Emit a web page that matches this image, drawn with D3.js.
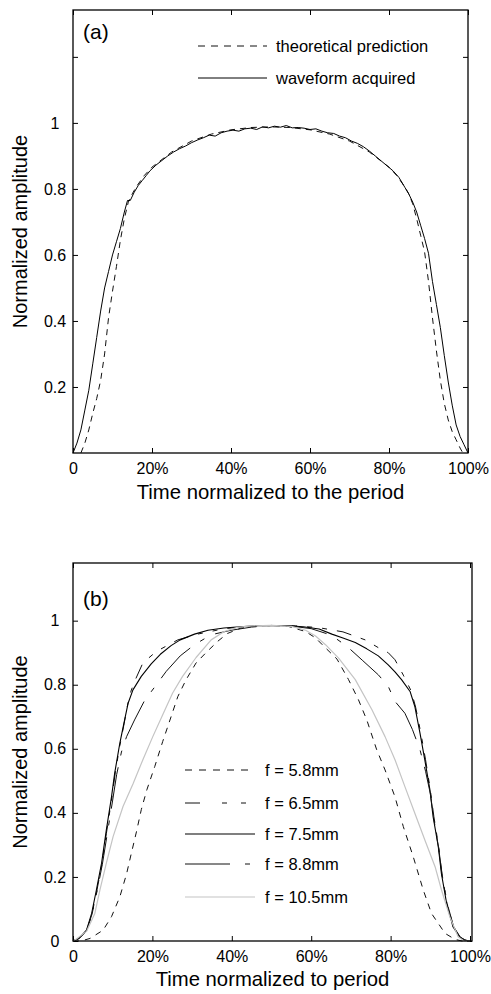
<!DOCTYPE html>
<html><head><meta charset="utf-8">
<script src="https://cdn.jsdelivr.net/npm/d3@7"></script>
<style>body{margin:0;background:#fff}svg{display:block}</style>
</head><body><svg id="c" width="491" height="994"></svg>
<script>
// ---------- data ----------
const xTickValues = [0, 20, 40, 60, 80, 100];
const xTickLabels = ["0", "20%", "40%", "60%", "80%", "100%"];
const aYTickValues = [0.2, 0.4, 0.6, 0.8, 1, 1.2];
const aYTickLabels = ["0.2", "0.4", "0.6", "0.8", "1", ""];
const bYTickValues = [0, 0.2, 0.4, 0.6, 0.8, 1];
const bYTickLabels = ["0", "0.2", "0.4", "0.6", "0.8", "1"];

const aSeriesNames = ["theoretical prediction", "waveform acquired"];
const aTheoretical = [[2,0],[3,0.03],[4,0.07],[5,0.12],[6,0.165],[7,0.22],[8,0.30],[9,0.41],[10,0.49],[11,0.565],[12,0.645],[13,0.71],[14,0.76],[15,0.785],[16,0.806],[18,0.84],[20,0.866],[25,0.912],[30,0.945],[35,0.966],[40,0.979],[45,0.986],[50,0.988],[55,0.986],[60,0.979],[65,0.966],[70,0.945],[75,0.912],[80,0.866],[82,0.84],[84,0.806],[85,0.785],[86,0.755],[87,0.71],[88,0.66],[89,0.61],[90,0.52],[91,0.41],[92,0.31],[93,0.22],[94,0.15],[95,0.10],[96,0.065],[97,0.04],[98,0.015],[98.7,0]];
const aWaveform = [[0,0],[1,0.03],[2,0.07],[3,0.13],[4,0.19],[5,0.27],[6,0.35],[7,0.43],[8,0.5],[9,0.55],[10,0.6],[11,0.64],[12,0.68],[13,0.73],[13.8,0.765],[14.5,0.765],[15.5,0.79],[16.5,0.81],[17.5,0.825],[18.5,0.84],[19.5,0.855],[21,0.872],[22.5,0.886],[24,0.9],[25.5,0.912],[27,0.922],[28.5,0.93],[30,0.94],[31.5,0.948],[33,0.955],[34.5,0.963],[36,0.96],[37.5,0.97],[39,0.975],[40.5,0.978],[42,0.975],[43.5,0.982],[45,0.984],[46.5,0.98],[48,0.988],[49.5,0.985],[51,0.99],[52.5,0.987],[54,0.992],[55.5,0.985],[57,0.986],[58.5,0.984],[60,0.98],[61.5,0.982],[63,0.975],[64.5,0.97],[66,0.968],[67.5,0.96],[69,0.955],[70.5,0.945],[72,0.938],[73.5,0.928],[75,0.915],[76.5,0.9],[78,0.885],[79.5,0.87],[81,0.855],[82.5,0.835],[84,0.805],[85,0.785],[86,0.76],[87,0.73],[88,0.69],[89,0.65],[90,0.605],[91,0.52],[92,0.45],[93,0.38],[94,0.295],[95,0.215],[96,0.145],[97,0.085],[98,0.05],[99,0.025],[100,0]];

const bSeriesNames = ["f = 5.8mm", "f = 6.5mm", "f = 7.5mm", "f = 8.8mm", "f = 10.5mm"];
const bF58 = [[0,0],[2,0],[4.3,0.008],[7.6,0.034],[9.7,0.076],[11.8,0.138],[13.5,0.21],[14.7,0.274],[16,0.342],[17.2,0.41],[18.6,0.472],[20.6,0.545],[22.6,0.623],[24.7,0.70],[26.4,0.763],[28.5,0.816],[31,0.868],[33.5,0.90],[36.4,0.935],[38.9,0.96],[42.3,0.977],[46,0.984],[50,0.985],[54,0.983],[58.6,0.966],[61.1,0.946],[63.6,0.915],[66.5,0.88],[69.4,0.816],[71.9,0.753],[74,0.69],[76.5,0.597],[78.6,0.534],[81.1,0.45],[83.2,0.357],[85.7,0.263],[88.2,0.16],[90.3,0.086],[93.7,0.024],[96.2,0.005],[98,0],[100,0]];
const bF65 = [[0,0],[1.5,0.008],[3.4,0.03],[4.7,0.08],[5.9,0.15],[7.2,0.235],[8.4,0.335],[9.7,0.44],[10.7,0.53],[11.8,0.61],[12.9,0.68],[13.8,0.74],[14.6,0.78],[15.5,0.81],[17.6,0.868],[21,0.904],[26.4,0.94],[31.4,0.958],[38.1,0.975],[44,0.982],[50,0.985],[56,0.984],[62,0.978],[68,0.965],[73.6,0.94],[77,0.915],[79.4,0.9],[81.1,0.878],[83.2,0.83],[85.2,0.78],[86.3,0.73],[87.6,0.65],[88.8,0.566],[90,0.472],[90.9,0.388],[92.1,0.295],[92.9,0.21],[94.2,0.118],[95.8,0.045],[97.5,0.013],[98.7,0.003],[100,0]];
const bF75 = [[0,0],[1.5,0.008],[3.4,0.034],[4.7,0.086],[5.9,0.16],[7.2,0.243],[8.4,0.347],[9.7,0.45],[10.5,0.524],[11.8,0.618],[13,0.69],[13.9,0.743],[15.1,0.784],[17.2,0.826],[19.7,0.865],[22,0.895],[24.7,0.922],[27,0.94],[30.6,0.958],[34,0.97],[38,0.977],[42,0.981],[46,0.984],[50,0.985],[54,0.984],[58,0.981],[62,0.974],[65.2,0.958],[68,0.946],[71.1,0.932],[74,0.912],[76.9,0.89],[79.4,0.862],[81.1,0.84],[82.8,0.815],[84.9,0.779],[86.1,0.732],[87.4,0.649],[88.6,0.566],[89.9,0.472],[90.7,0.388],[92,0.295],[92.8,0.21],[94.1,0.118],[95.7,0.045],[97.4,0.013],[98.5,0.003],[100,0]];
const bF88 = [[0,0],[1.5,0.008],[3.4,0.032],[4.8,0.084],[6.1,0.158],[7.4,0.24],[8.7,0.34],[10,0.44],[11,0.52],[12.2,0.59],[13.5,0.638],[15.5,0.69],[18,0.75],[21,0.8],[23.5,0.842],[27,0.89],[30.6,0.925],[34.8,0.956],[39.8,0.97],[45,0.98],[50,0.985],[55,0.983],[60,0.975],[65,0.955],[69,0.92],[73,0.875],[76.9,0.831],[79.4,0.795],[81.1,0.748],[83.6,0.711],[85.5,0.66],[87.4,0.597],[88.8,0.53],[90,0.46],[90.9,0.38],[92.1,0.29],[93,0.205],[94.3,0.115],[95.9,0.044],[97.5,0.013],[98.7,0.003],[100,0]];
const bF105 = [[0,0],[0.5,0.003],[3.4,0.03],[5.5,0.086],[6.8,0.16],[8.4,0.243],[10.1,0.326],[12.6,0.42],[15.1,0.49],[17.6,0.566],[20.1,0.638],[22.6,0.706],[25.1,0.774],[27.6,0.826],[31,0.885],[34.8,0.94],[38.1,0.966],[41.4,0.979],[45,0.984],[50,0.985],[55,0.982],[58.6,0.97],[61.1,0.952],[63.6,0.925],[66.9,0.883],[71.1,0.816],[75.3,0.722],[78.6,0.638],[81.1,0.566],[83.6,0.482],[86.1,0.399],[88.6,0.316],[91.2,0.232],[92.8,0.16],[94.9,0.076],[97,0.013],[98.5,0],[100,0]];

// ---------- drawing ----------
const FONT = "'Liberation Sans', Arial, Helvetica, sans-serif";
const svg = d3.select("#c").style("font-family", FONT);

function panel(o) {
  const x = d3.scaleLinear().domain(o.xDomain).range([o.left, o.right]);
  const y = d3.scaleLinear().domain(o.yDomain).range([o.bottom, o.top]);
  const g = svg.append("g");

  const TS = 5;
  const bx = g.append("g").attr("transform", `translate(0,${o.bottom})`)
    .call(d3.axisBottom(x).tickValues(xTickValues).tickSizeInner(-TS).tickSizeOuter(0).tickPadding(10)
      .tickFormat((d, i) => xTickLabels[i]));
  const tx = g.append("g").attr("transform", `translate(0,${o.top})`)
    .call(d3.axisTop(x).tickValues(xTickValues).tickSizeInner(-TS).tickSizeOuter(0).tickFormat(""));
  const ly = g.append("g").attr("transform", `translate(${o.left},0)`)
    .call(d3.axisLeft(y).tickValues(o.yTicks).tickSizeInner(-TS).tickSizeOuter(0)
      .tickFormat((d, i) => o.yLabels[i]));
  const ry = g.append("g").attr("transform", `translate(${o.right},0)`)
    .call(d3.axisRight(y).tickValues(o.yTicks).tickSizeInner(-TS).tickSizeOuter(0).tickFormat(""));

  [bx, tx, ly, ry].forEach(a => {
    a.select(".domain").remove();
    a.selectAll(".tick line").attr("stroke", "#000").attr("stroke-width", 1);
    a.selectAll("text").attr("fill", "#000").style("font-size", "16px").style("font-family", FONT);
  });
  ly.selectAll("text").attr("text-anchor", "middle").attr("x", -18);

  const line = d3.line().x(d => x(d[0])).y(d => y(d[1]));
  o.series.forEach(s => {
    g.append("path").datum(s.data).attr("d", line)
      .attr("fill", "none").attr("stroke", s.color).attr("stroke-width", s.width)
      .attr("stroke-dasharray", s.dash || null).attr("stroke-linejoin", "round");
  });

  g.append("rect").attr("x", o.left).attr("y", o.top)
    .attr("width", o.right - o.left).attr("height", o.bottom - o.top)
    .attr("fill", "none").attr("stroke", "#000").attr("stroke-width", 1.3);

  o.series.forEach((s, i) => {
    const yy = o.legend.ys[i];
    g.append("line").attr("x1", o.legend.x1).attr("x2", o.legend.x2).attr("y1", yy).attr("y2", yy)
      .attr("stroke", s.color).attr("stroke-width", s.width)
      .attr("stroke-dasharray", s.legendDash || s.dash || null);
    g.append("text").attr("x", o.legend.tx).attr("y", yy).attr("dy", "0.36em")
      .style("font-size", "16.5px").attr("fill", "#000").text(s.name);
  });

  g.append("text").attr("x", o.left + 10).attr("y", o.tagY).style("font-size", "21px").text(o.tag);

  g.append("text").attr("x", (o.left + o.right) / 2).attr("y", o.xTitleY)
    .attr("text-anchor", "middle").style("font-size", "20.3px").text(o.xTitle);
  g.append("text").attr("transform", `translate(${o.yTitleX},${(o.top + o.bottom) / 2}) rotate(-90)`)
    .attr("text-anchor", "middle").style("font-size", "20px").text("Normalized amplitude");
}

panel({
  left: 73, right: 468, top: 10, bottom: 453,
  xDomain: [0, 100], yDomain: [0, 1.342],
  yTicks: aYTickValues, yLabels: aYTickLabels,
  tag: "(a)", tagY: 39, xTitle: "Time normalized to the period", xTitleY: 499, yTitleX: 27,
  series: [
    { name: aSeriesNames[0], data: aTheoretical, color: "#111", width: 1, dash: "6,5", legendDash: "7,6" },
    { name: aSeriesNames[1], data: aWaveform, color: "#000", width: 1, dash: null }
  ],
  legend: { x1: 198, x2: 267, tx: 276, ys: [46, 78] }
});

panel({
  left: 73, right: 472, top: 563, bottom: 941,
  xDomain: [0, 100.5], yDomain: [0, 1.18],
  yTicks: bYTickValues, yLabels: bYTickLabels,
  tag: "(b)", tagY: 606, xTitle: "Time normalized to period", xTitleY: 986, yTitleX: 27,
  series: [
    { name: bSeriesNames[0], data: bF58, color: "#111", width: 1, dash: "6,6", legendDash: "7,7" },
    { name: bSeriesNames[1], data: bF65, color: "#111", width: 1, dash: "15,10,5,10,5,10", legendDash: "15,22,5,14,5,9" },
    { name: bSeriesNames[2], data: bF75, color: "#000", width: 1.1, dash: null },
    { name: bSeriesNames[3], data: bF88, color: "#111", width: 1, dash: "42,12,5,12", legendDash: "45,15,5,5" },
    { name: bSeriesNames[4], data: bF105, color: "#c4c4c4", width: 1.2, dash: null }
  ],
  legend: { x1: 185, x2: 255, tx: 265, ys: [770, 803, 834, 864, 897] }
});
</script></body></html>
